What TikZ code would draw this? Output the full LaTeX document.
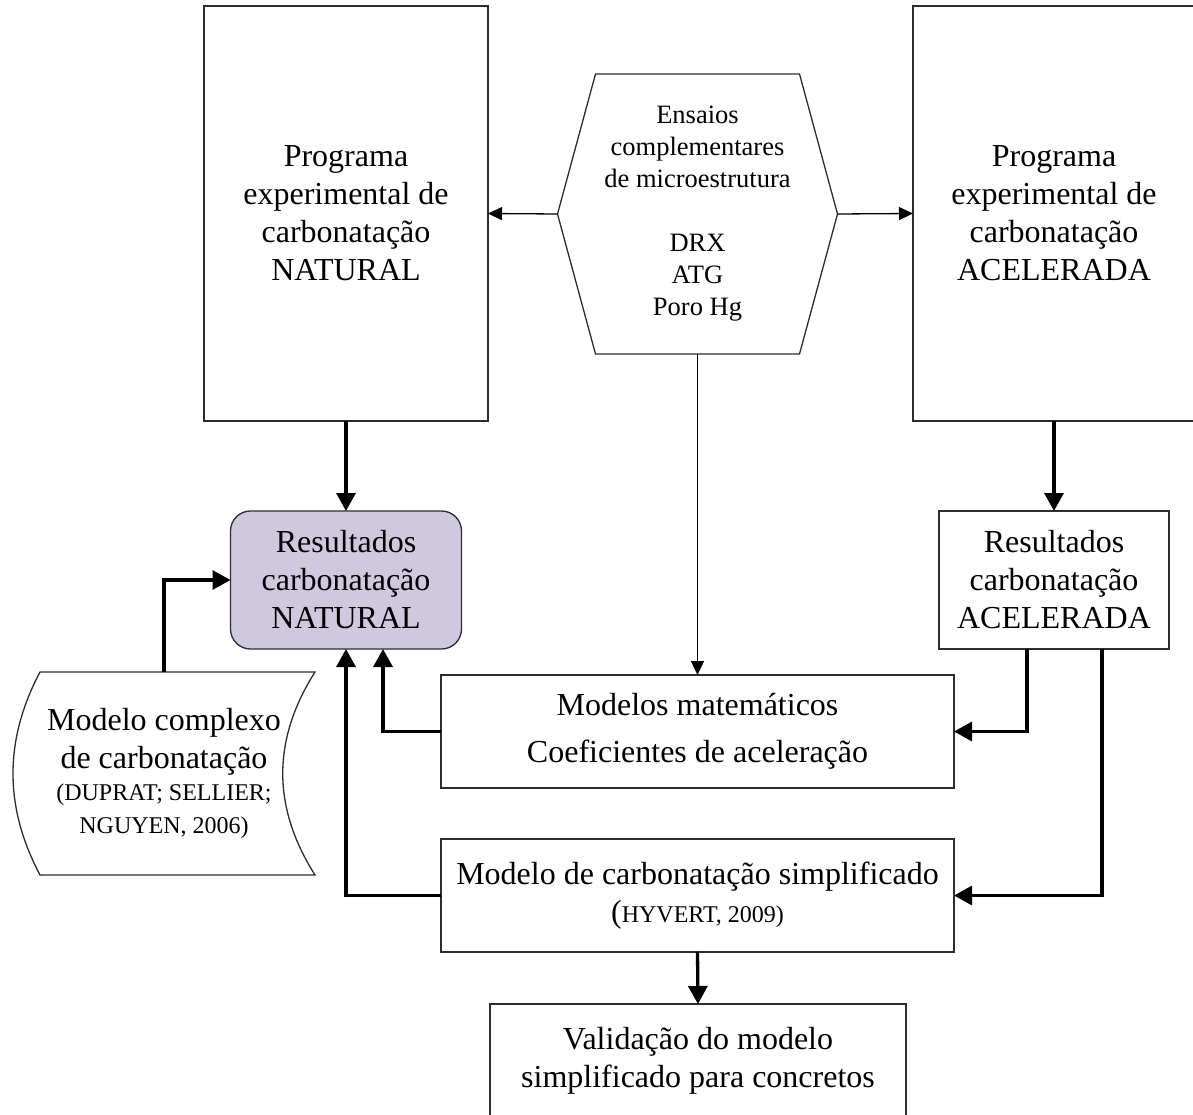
\documentclass[tikz,border=0pt]{standalone}
\usepackage{fontspec}
\setmainfont{Liberation Serif}
\usetikzlibrary{arrows.meta,calc}
\definecolor{lav}{RGB}{208,200,222}
\definecolor{edgec}{RGB}{45,45,45}
\begin{document}
\begin{tikzpicture}[x=1pt,y=-1pt,
  box/.style={draw=edgec,line width=1.3pt,inner sep=0pt,outer sep=0pt,align=center,font=\fontsize{32}{38}\selectfont},
  plain/.style={inner sep=0pt,outer sep=0pt,align=center},
  thinarrow/.style={line width=1.3pt,-{Triangle[length=14pt,width=13pt]}},
  thickarrow/.style={line width=3.3pt,-{Triangle[length=18pt,width=19pt]}},
  outline/.style={draw=edgec,line width=1.3pt}
]
\useasboundingbox (0,0) rectangle (1193,1115);
\clip (0,0) rectangle (1193,1115);

% top boxes
\node[box,minimum width=284pt,minimum height=415pt] (progN) at (346,213.5)
  {Programa\\experimental de\\carbonatação\\NATURAL};
\node[box,minimum width=282pt,minimum height=415pt] (progA) at (1054,213.5)
  {Programa\\experimental de\\carbonatação\\ACELERADA};

% hexagon
\node[plain,minimum width=280pt,minimum height=280pt,font=\fontsize{26.5}{32}\selectfont] (hex) at (697.5,214)
  {Ensaios\\complementares\\de microestrutura\\[32pt]DRX\\ATG\\Poro Hg};
\draw[outline] ([xshift=38pt]hex.north west) -- ([xshift=-38pt]hex.north east) -- (hex.east)
  -- ([xshift=-38pt]hex.south east) -- ([xshift=38pt]hex.south west) -- (hex.west) -- cycle;

% results
\node[box,rounded corners=20pt,fill=lav,minimum width=231pt,minimum height=138pt] (resN) at (346,580)
  {Resultados\\carbonatação\\NATURAL};
\node[box,minimum width=230pt,minimum height=138pt] (resA) at (1054,580)
  {Resultados\\carbonatação\\ACELERADA};

% stored-data shape
\draw[outline] (40,672) -- (315,672) .. controls (272,740) and (272,807) .. (315,875)
  -- (40,875) .. controls (4,807) and (4,740) .. (40,672) -- cycle;
\node[plain,minimum width=250pt,minimum height=203pt,font=\fontsize{32}{38}\selectfont] (tape) at (164,773.5)
  {Modelo complexo\\de carbonatação\\[-6pt]\fontsize{24}{29}\selectfont (DUPRAT; SELLIER;\\[-5pt]\fontsize{24}{29}\selectfont NGUYEN, 2006)};

% model boxes
\node[box,minimum width=513pt,minimum height=113pt,font=\fontsize{32}{47}\selectfont] (modelos) at (697.5,731.5)
  {Modelos matemáticos\\Coeficientes de aceleração};
\node[box,minimum width=513pt,minimum height=113pt] (simpl) at (697.5,895.5)
  {Modelo de carbonatação simplificado\\(\fontsize{24}{36}\selectfont HYVERT, 2009)};
\node[box,minimum width=416pt,minimum height=114pt] (valid) at (698,1061)
  {Validação do modelo\\simplificado para concretos};

% connectors
\draw[thickarrow] (progN.south) -- (resN.north);
\draw[thickarrow] (progA.south) -- (resA.north);
\draw[thinarrow] (hex.west) -- (progN.east);
\draw[thinarrow] (hex.east) -- (progA.west);
\draw[thinarrow] (hex.south) -- (modelos.north);
\draw[thickarrow] (tape.north) |- (resN.west);
\draw[thickarrow] (modelos.west) -| ([xshift=37pt]resN.south);
\draw[thickarrow] (simpl.west) -| (resN.south);
\draw[thickarrow] ([xshift=-27pt]resA.south) |- (modelos.east);
\draw[thickarrow] ([xshift=48pt]resA.south) |- (simpl.east);
\draw[thickarrow] (simpl.south) -- (valid.north);
\end{tikzpicture}
\end{document}
